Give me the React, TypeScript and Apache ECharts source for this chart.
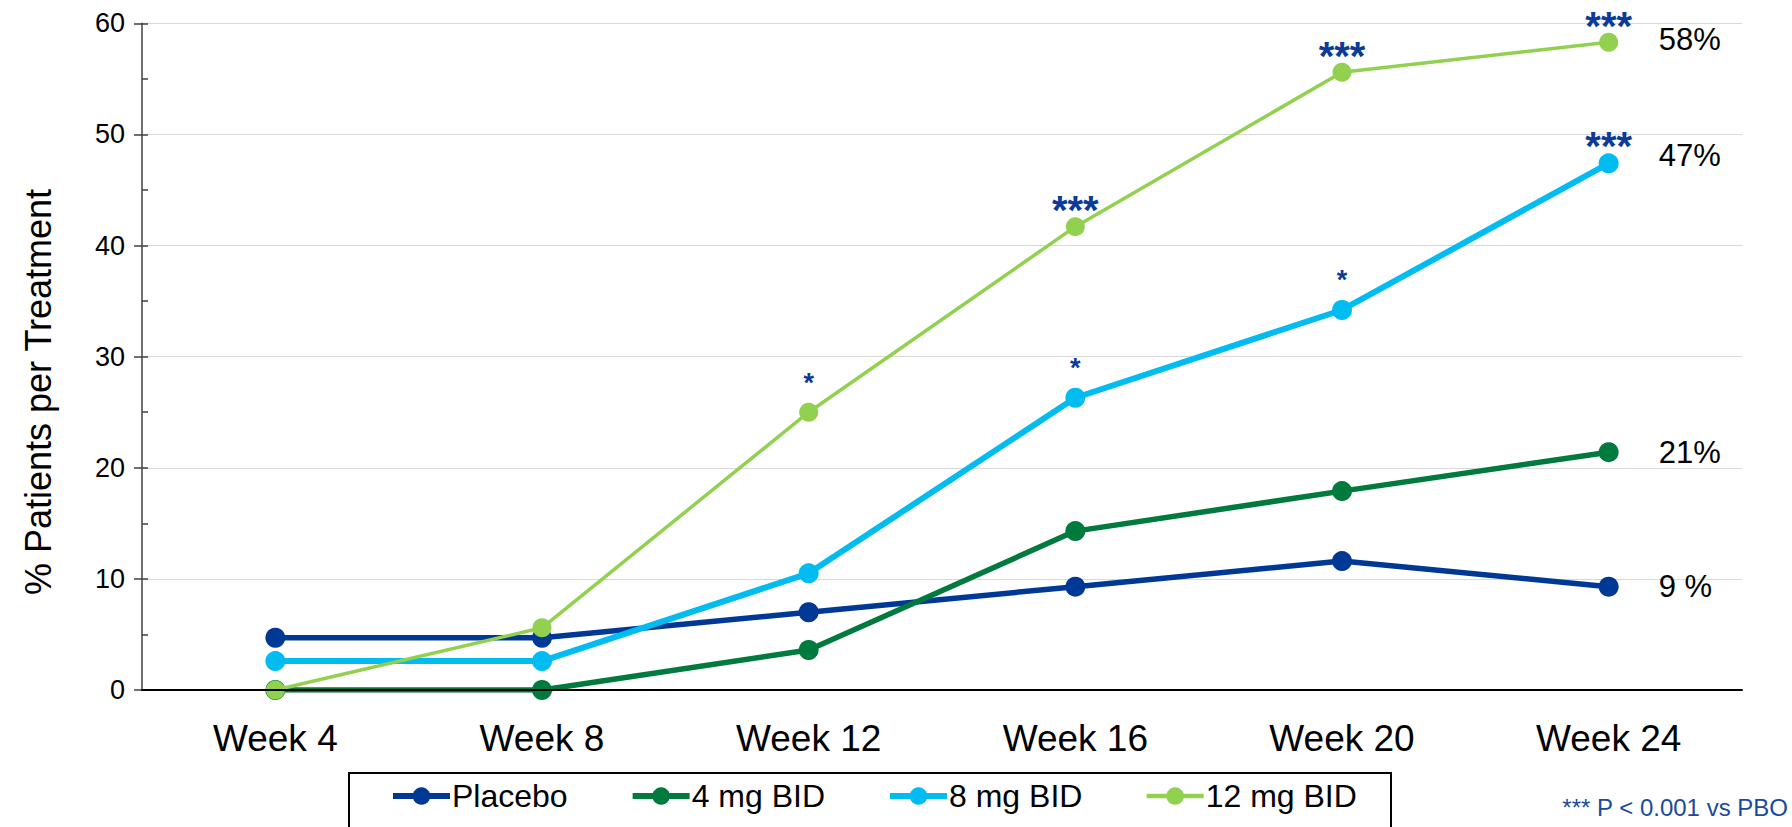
import React, { useEffect, useRef } from "react";
import * as echarts from "echarts";

const weeks = ["Week 4", "Week 8", "Week 12", "Week 16", "Week 20", "Week 24"];
const seriesNames = ["Placebo", "4 mg BID", "8 mg BID", "12 mg BID"];
const placebo = [4.7, 4.7, 7.0, 9.3, 11.6, 9.3];
const mg4 = [0, 0, 3.6, 14.3, 17.9, 21.4];
const mg8 = [2.6, 2.6, 10.5, 26.3, 34.2, 47.4];
const mg12 = [0, 5.6, 25.0, 41.7, 55.6, 58.3];
const sigPlacebo = ["", "", "", "", "", ""];
const sig4 = ["", "", "", "", "", ""];
const sig8 = ["", "", "", "*", "*", "***"];
const sig12 = ["", "", "*", "***", "***", "***"];
const endTexts = ["9 %", "21%", "47%", "58%"];
const yTicks = [0, 10, 20, 30, 40, 50, 60];
const footnote = "*** P < 0.001 vs PBO";
const yTitle = "% Patients per Treatment";

const FONT = "'Liberation Sans', Arial, Helvetica, sans-serif";
const STAR = "#0B3B96";

export default function App() {
  const ref = useRef<HTMLDivElement>(null);
  useEffect(() => {
    document.body.style.margin = "0";
    document.body.style.overflow = "hidden";
    const chart = echarts.init(ref.current!, null, { renderer: "svg" });
    const values = [placebo, mg4, mg8, mg12];
    const sigs = [sigPlacebo, sig4, sig8, sig12];
    const colors = ["#003896", "#007A3D", "#00BCF0", "#92D050"];
    const widths = [5.5, 5.5, 6, 3.5];
    const sizes = [20, 20, 20, 19];

    const series = values.map((vals, si) => ({
      name: seriesNames[si],
      type: "line",
      yAxisIndex: 0,
      symbol: "circle",
      symbolSize: sizes[si],
      z: 2 + si,
      lineStyle: { color: colors[si], width: widths[si] },
      itemStyle: { color: colors[si] },
      data: vals.map((v, i) => {
        const s = sigs[si][i];
        if (!s) return { value: v };
        const triple = s.length > 1;
        return {
          value: v,
          label: {
            show: true,
            position: "top",
            formatter: s,
            distance: triple ? 0 : 6,
            offset: triple ? [0, 13] : [0, 0],
            color: STAR,
            fontFamily: FONT,
            fontWeight: "bold",
            fontSize: triple ? 40 : 27,
          },
        };
      }),
      endLabel: {
        show: true,
        formatter: endTexts[si],
        distance: 50,
        color: "#000",
        fontFamily: FONT,
        fontSize: 31,
        offset: si === 2 ? [0, -8] : si === 3 ? [0, -3] : [0, 0],
      },
    }));

    chart.setOption({
      animation: false,
      grid: { left: 142, right: 50, top: 23.3, bottom: 137, containLabel: false },
      xAxis: {
        type: "category",
        data: weeks,
        boundaryGap: true,
        axisLine: { lineStyle: { color: "#000", width: 2 } },
        axisTick: { alignWithLabel: true, length: 8, lineStyle: { color: "#000", width: 2 } },
        axisLabel: { color: "#000", fontSize: 37, fontFamily: FONT, margin: 30 },
        splitLine: { show: false },
        z: 10,
      },
      yAxis: [
        {
          type: "value",
          min: 0,
          max: 60,
          interval: 5,
          axisLine: { show: true, lineStyle: { color: "#404040", width: 1.5 } },
          axisTick: { show: true, inside: true, length: 6, lineStyle: { color: "#404040", width: 1.5 } },
          axisLabel: { show: false },
          splitLine: { show: false },
        },
        {
          type: "value",
          min: 0,
          max: 60,
          interval: 10,
          position: "left",
          axisLine: { show: false },
          axisTick: { show: true, inside: false, length: 8, lineStyle: { color: "#404040", width: 1.5 } },
          axisLabel: {
            color: "#000",
            fontSize: 27,
            fontFamily: FONT,
            margin: 17,
            formatter: (v: number) => (yTicks.includes(v) ? String(v) : ""),
          },
          splitLine: { show: true, lineStyle: { color: "#D9D9D9", width: 1 } },
        },
      ],
      legend: {
        data: seriesNames.map((n, i) => ({
          name: n,
          lineStyle: { width: i === 3 ? 4.5 : 6 },
        })),
        left: 390,
        top: 780,
        padding: 0,
        itemWidth: 57,
        itemHeight: 22,
        itemGap: 62,
        lineStyle: { width: 6 },
        textStyle: { color: "#000", fontSize: 32, fontFamily: FONT, padding: [0, 0, 0, -3] },
      },
      graphic: [
        {
          type: "rect",
          shape: { x: 349, y: 773, width: 1042, height: 70 },
          style: { fill: "none", stroke: "#000", lineWidth: 2 },
          silent: true,
        },
        {
          type: "text",
          x: 38,
          y: 392,
          rotation: Math.PI / 2,
          style: {
            text: yTitle,
            fontSize: 36,
            fontFamily: FONT,
            fill: "#000",
            align: "center",
            verticalAlign: "middle",
          },
        },
        {
          type: "text",
          x: 1788,
          y: 807,
          style: {
            text: footnote,
            fontSize: 24,
            fontFamily: FONT,
            fill: "#1A4A9E",
            align: "right",
            verticalAlign: "middle",
          },
        },
      ],
      series,
    });
    return () => chart.dispose();
  }, []);
  return <div ref={ref} style={{ width: 1792, height: 827 }} />;
}
